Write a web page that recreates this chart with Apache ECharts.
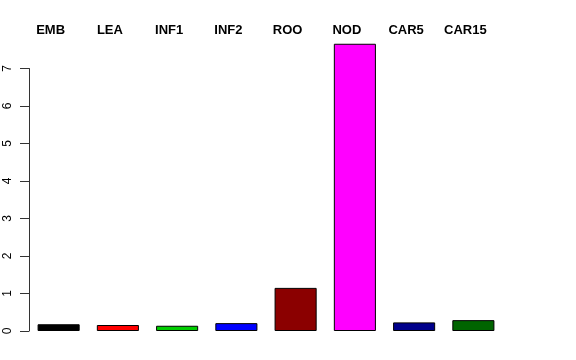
<!DOCTYPE html>
<html>
<head>
<meta charset="utf-8">
<script src="https://cdn.jsdelivr.net/npm/echarts@6/dist/echarts.min.js"></script>
<style>html,body{margin:0;padding:0;background:#fff;}#c{width:576px;height:360px;}</style>
</head>
<body>
<div id="c"></div>
<script>
const categories = ['EMB', 'LEA', 'INF1', 'INF2', 'ROO', 'NOD', 'CAR5', 'CAR15'];
const values = [0.18, 0.16, 0.14, 0.21, 1.15, 7.66, 0.23, 0.29];
const barColors = ['#000000', '#FF0000', '#00CD00', '#0000FF', '#8B0000', '#FF00FF', '#00008B', '#006400'];
const yTicks = [0, 1, 2, 3, 4, 5, 6, 7];

const chart = echarts.init(document.getElementById('c'), null, {renderer: 'canvas'});
chart.setOption({
  animation: false,
  backgroundColor: '#ffffff',
  grid: {left: 29, right: 73, top: 68.5, bottom: 29, containLabel: false},
  xAxis: [{
    type: 'category',
    data: categories,
    position: 'bottom',
    show: false
  }, {
    type: 'category',
    data: categories,
    position: 'top',
    axisLine: {show: false},
    axisTick: {show: false},
    axisLabel: {
      margin: 32,
      fontFamily: 'Liberation Sans, Arial, sans-serif',
      fontWeight: 'bold',
      fontSize: 13,
      color: '#000',
      padding: [0, 16, 0, 0]
    }
  }],
  yAxis: {
    type: 'value',
    min: 0,
    max: 7,
    interval: 1,
    splitLine: {show: false},
    axisLine: {show: true, lineStyle: {color: '#333', width: 1}},
    axisTick: {show: true, length: 9, lineStyle: {color: '#333'}},
    axisLabel: {
      rotate: 90,
      margin: 15,
      fontFamily: 'Liberation Sans, Arial, sans-serif',
      fontSize: 12,
      color: '#000',
      formatter: function (v) { return yTicks.indexOf(v) >= 0 ? String(v) : ''; }
    }
  },
  series: [{
    type: 'bar',
    xAxisIndex: 0,
    data: values.map((v, i) => ({value: v, itemStyle: {color: barColors[i]}})),
    barWidth: '71%',
    clip: false,
    itemStyle: {borderColor: '#000', borderWidth: 1}
  }]
});
</script>
</body>
</html>
